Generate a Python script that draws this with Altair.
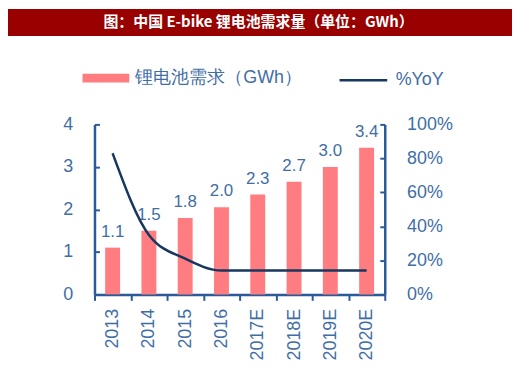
import altair as alt
import pandas as pd

years = ["2013", "2014", "2015", "2016", "2017E", "2018E", "2019E", "2020E"]
demand = [1.1, 1.5, 1.8, 2.05, 2.35, 2.65, 3.0, 3.45]
demand_labels = ["1.1", "1.5", "1.8", "2.0", "2.3", "2.7", "3.0", "3.4"]
yoy = [0.83, 0.35, 0.21, 0.14, 0.14, 0.14, 0.14, 0.14]
title_text = "图：中国 E-bike 锂电池需求量（单位：GWh）"
bar_series = "锂电池需求（GWh）"
line_series = "%YoY"

BAR = "#ff7c80"
LINE = "#17375e"
AXIS = "#2a5a9a"
LABEL = "#3f6ea5"
FONT = "Liberation Sans"

df = pd.DataFrame({
    "year": years,
    "demand": demand,
    "label": demand_labels,
    "yoy": yoy,
    "s1": [bar_series] * len(years),
    "s2": [line_series] * len(years),
})

x = alt.X("year:N", sort=years,
          scale=alt.Scale(paddingInner=0, paddingOuter=0),
          axis=alt.Axis(title=None, labelAngle=-90, tickBand="extent", tickSize=6,
                        labelPadding=8, labelFontSize=18))

base = alt.Chart(df)

bars = base.mark_bar(size=15).encode(
    x=x,
    y=alt.Y("demand:Q", scale=alt.Scale(domain=[0, 4]),
            axis=alt.Axis(title=None, values=[0, 1, 2, 3, 4], tickSize={"expr": "-5"},
                          labelPadding=27)),
    fill=alt.Fill("s1:N", scale=alt.Scale(domain=[bar_series], range=[BAR]),
                  legend=alt.Legend(title=None, orient="none", legendX=-12, legendY=-70,
                                    symbolType="M-1,-0.19L1,-0.19L1,0.19L-1,0.19Z",
                                    symbolSize=2209, symbolStrokeWidth=0,
                                    labelOffset=6, labelFont=FONT, labelFontSize=18,
                                    labelColor=LABEL, labelLimit=400)),
)

labels = base.mark_text(baseline="bottom", dy=-7, fontSize=17, font=FONT, color=LABEL).encode(
    x=x,
    y=alt.Y("demand:Q"),
    text="label:N",
)

left = alt.layer(bars, labels)

line = base.mark_line(strokeWidth=2.5, interpolate="monotone").encode(
    x=x,
    y=alt.Y("yoy:Q", scale=alt.Scale(domain=[0, 1]),
            axis=alt.Axis(title=None, orient="right", format=".0%",
                          values=[0, 0.2, 0.4, 0.6, 0.8, 1.0], tickSize={"expr": "-5"},
                          labelPadding=27)),
    stroke=alt.Stroke("s2:N", scale=alt.Scale(domain=[line_series], range=[LINE]),
                      legend=alt.Legend(title=None, orient="none", legendX=245, legendY=-70,
                                        symbolType="stroke", symbolSize=2304,
                                        symbolStrokeWidth=2.5,
                                        labelOffset=7, labelFont=FONT, labelFontSize=18,
                                        labelColor=LABEL, labelLimit=400)),
)

tdf = pd.DataFrame({"t": [title_text]})
banner = alt.Chart(tdf).mark_rect(color="#990000").encode(
    x=alt.value(-87), x2=alt.value(420), y=alt.value(-116), y2=alt.value(-89)
)
banner_text = alt.Chart(tdf).mark_text(
    color="white", fontSize=15, fontWeight="bold", font="Noto Sans CJK SC",
    baseline="middle", align="center"
).encode(text="t:N", x=alt.value(165), y=alt.value(-103))

chart = alt.layer(left, line, banner, banner_text).resolve_scale(
    y="independent", fill="independent", stroke="independent"
).properties(
    width=292, height=171,
    autosize=alt.AutoSizeParams(type="none"),
    padding={"left": 87, "top": 116, "right": 128, "bottom": 80},
).configure_view(stroke=None).configure_axis(
    grid=False, labelFont=FONT, labelFontSize=18, labelColor=LABEL,
    domainColor=AXIS, domainWidth=2.5, tickColor=AXIS, tickWidth=2,
)

chart.save("out.html", embed_options={"renderer": "svg", "actions": False})
